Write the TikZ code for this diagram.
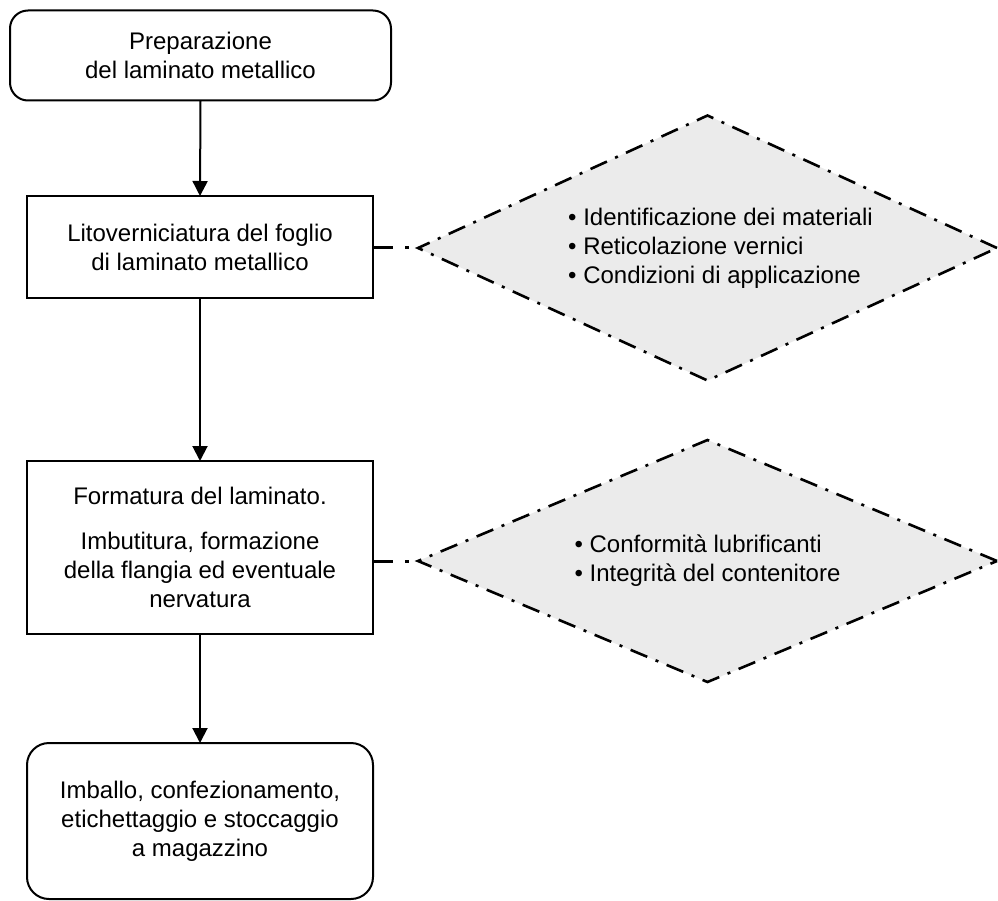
\documentclass[tikz,border=0pt]{standalone}
\usepackage{fontspec}
\setmainfont{Liberation Sans}
\usetikzlibrary{arrows.meta,shapes.geometric}
\definecolor{diafill}{RGB}{235,235,235}
\tikzset{
  every node/.style={outer sep=0pt, inner sep=0pt, font=\fontsize{24}{29}\selectfont},
  procbox/.style={draw, line width=2pt, align=center},
  termbox/.style={procbox, rounded corners=18pt},
  checkdia/.style={diamond, shape aspect=2.18, draw, fill=diafill, line width=2.6pt,
    dash pattern=on 18pt off 9pt on 3pt off 9pt, align=left},
  flow/.style={line width=2pt, -{Triangle[length=15pt,width=15pt]}},
  link/.style={line width=3pt, dash pattern=on 20pt off 12pt on 4pt off 100pt}
}
\begin{document}
\begin{tikzpicture}[x=1pt,y=-1pt]
\useasboundingbox (0,0) rectangle (998,901);
\node[termbox, minimum width=381pt, minimum height=90pt] (p1) at (200.5,55.5)
  {Preparazione\\del laminato metallico};
\node[procbox, minimum width=346pt, minimum height=102pt] (p2) at (200,247)
  {Litoverniciatura del foglio\\di laminato metallico};
\node[procbox, minimum width=346pt, minimum height=173pt] (p3) at (200,547.5)
  {Formatura del laminato.\\[16pt]Imbutitura, formazione\\della flangia ed eventuale\\nervatura};
\node[procbox, rounded corners=22pt, minimum width=346pt, minimum height=156pt] (p4) at (200,821)
  {Imballo, confezionamento,\\etichettaggio e stoccaggio\\a magazzino};
\node[checkdia, minimum width=579pt, minimum height=265pt] (d1) at (707.5,248)
  {\hspace*{26pt}• Identificazione dei materiali\\\hspace*{26pt}• Reticolazione vernici\\\hspace*{26pt}• Condizioni di applicazione};
\node[checkdia, minimum width=579pt, minimum height=242pt] (d2) at (707.5,561)
  {• Conformità lubrificanti\\• Integrità del contenitore};
\draw[flow] (p1.south) -- (p2.north);
\draw[flow] (p2.south) -- (p3.north);
\draw[flow] (p3.south) -- (p4.north);
\draw[link] (p2.east |- d1.west) -- (d1.west);
\draw[link] (p3.east |- d2.west) -- (d2.west);
\end{tikzpicture}
\end{document}
